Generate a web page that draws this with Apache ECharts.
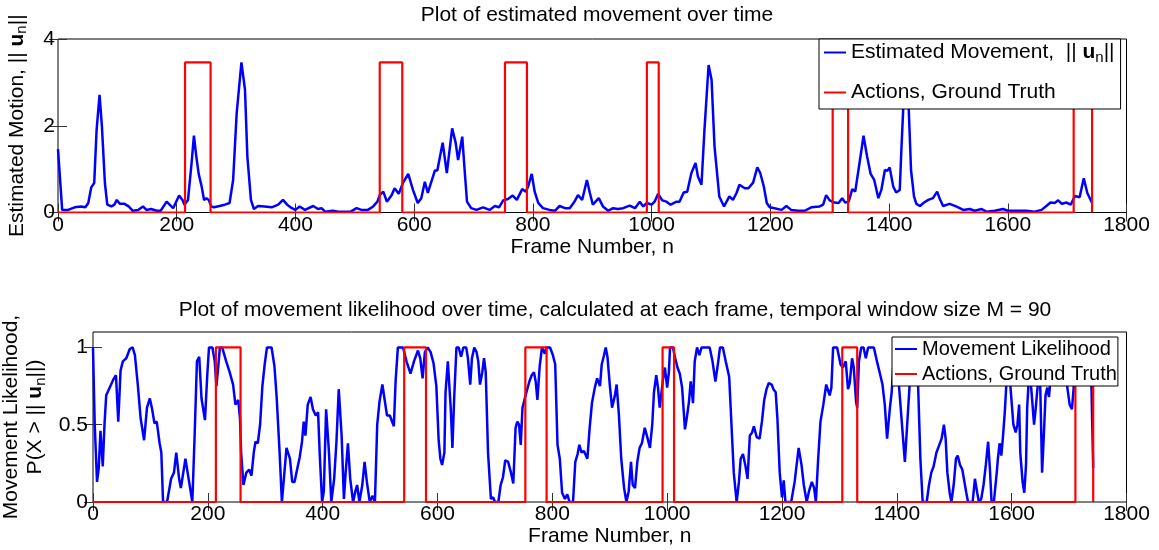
<!DOCTYPE html>
<html>
<head>
<meta charset="utf-8">
<script src="https://cdn.jsdelivr.net/npm/echarts@6/dist/echarts.min.js"></script>
<style>html,body{margin:0;padding:0;background:#fff}#c{width:1159px;height:550px}</style>
</head>
<body>
<div id="c"></div>
<script>
// ---------- data ----------
var motionFrames = [0,7,17,28,39,46,51,56,61,65,70,74,79,83,90,95,99,104,112,119,126,135,143,149,157,166,173,183,188,194,204,210,213,219,225,229,233,237,242,246,250,254,258,263,272,281,289,295,301,309,315,319,325,330,337,348,360,371,379,386,394,400,407,416,430,438,444,450,463,472,483,493,503,511,522,531,538,542,548,554,562,567,574,581,590,598,606,612,618,623,629,635,639,648,655,664,670,674,681,685,689,696,705,716,727,736,743,750,758,766,773,782,788,792,798,803,809,817,828,837,845,854,862,870,876,883,891,896,901,911,918,927,935,943,952,963,972,980,986,992,1000,1005,1011,1018,1025,1032,1042,1047,1054,1060,1067,1074,1078,1084,1089,1096,1101,1106,1114,1122,1131,1137,1143,1148,1157,1163,1171,1178,1183,1189,1194,1199,1207,1219,1227,1235,1247,1258,1269,1283,1289,1294,1300,1308,1315,1321,1326,1332,1338,1343,1351,1357,1363,1369,1375,1382,1387,1393,1397,1401,1407,1412,1418,1421,1424,1428,1433,1437,1442,1446,1452,1459,1466,1474,1481,1485,1491,1502,1513,1525,1536,1544,1556,1564,1578,1592,1600,1617,1631,1645,1657,1665,1672,1679,1685,1691,1699,1706,1713,1721,1728,1734,1742];
var motionValues = [1.46,0.06,0.06,0.12,0.14,0.12,0.22,0.58,0.68,1.9,2.71,1.98,0.68,0.18,0.14,0.18,0.29,0.2,0.2,0.14,0.04,0.06,0.14,0.06,0.08,0.04,0.04,0.25,0.18,0.1,0.39,0.28,0.18,0.29,1.14,1.77,1.29,0.89,0.6,0.29,0.33,0.29,0.14,0.12,0.15,0.18,0.22,0.75,2.29,3.46,2.83,1.29,0.29,0.08,0.15,0.14,0.12,0.18,0.29,0.18,0.1,0.06,0.14,0.06,0.15,0.08,0.1,0.02,0.04,0.02,0.02,0.02,0.1,0.06,0.06,0.14,0.25,0.4,0.48,0.25,0.4,0.56,0.43,0.68,0.89,0.52,0.22,0.33,0.71,0.45,0.71,0.97,0.97,1.61,0.91,1.94,1.6,1.21,1.75,0.98,0.25,0.1,0.06,0.12,0.06,0.15,0.12,0.28,0.31,0.39,0.29,0.54,0.48,0.6,0.89,0.48,0.22,0.1,0.06,0.04,0.15,0.1,0.1,0.25,0.4,0.29,0.75,0.45,0.18,0.33,0.14,0.04,0.1,0.08,0.1,0.16,0.1,0.25,0.14,0.22,0.18,0.25,0.43,0.28,0.25,0.18,0.25,0.25,0.46,0.48,0.91,1.14,0.83,0.64,1.9,3.4,3.06,1.52,0.37,0.14,0.37,0.29,0.45,0.64,0.56,0.56,0.69,1.04,0.91,0.6,0.22,0.12,0.1,0.06,0.15,0.06,0.04,0.04,0.12,0.14,0.18,0.4,0.28,0.23,0.22,0.33,0.23,0.25,0.54,0.48,1.21,1.77,1.29,0.89,0.75,0.33,0.52,0.98,0.96,1.04,0.6,0.46,0.52,1.52,2.44,3.2,2.44,0.98,0.37,0.2,0.15,0.23,0.29,0.33,0.48,0.33,0.15,0.2,0.14,0.06,0.08,0.04,0.08,0.02,0.04,0.08,0.04,0.04,0.04,0.02,0.06,0.15,0.23,0.22,0.28,0.2,0.23,0.18,0.38,0.35,0.79,0.45,0.22];

var likelihoodFrames = [0,3,7,10,13,17,20,23,29,35,40,44,48,52,58,64,69,73,78,83,89,94,99,103,107,111,116,119,122,129,136,141,145,150,153,161,167,173,177,181,185,189,195,199,202,208,212,215,218,221,225,232,238,244,248,253,256,258,262,267,272,276,280,283,287,291,295,299,303,311,316,320,325,329,332,337,340,343,347,351,356,360,364,367,370,374,379,383,388,392,395,399,402,406,411,415,420,424,428,433,437,440,444,448,453,457,460,464,469,473,477,482,487,491,495,499,504,508,512,517,520,524,527,531,540,546,553,559,566,570,574,578,583,588,593,598,602,605,608,612,614,618,623,626,629,633,637,641,645,650,653,657,660,664,668,671,674,678,681,684,688,693,697,700,706,710,714,718,723,728,732,736,739,742,745,748,752,755,760,764,768,771,774,778,782,787,790,796,801,805,809,813,817,822,826,830,836,840,844,847,851,855,858,861,865,869,874,878,883,886,890,893,896,900,904,909,912,916,920,925,929,933,937,940,944,948,952,956,961,966,970,974,977,981,984,987,990,993,996,1000,1003,1005,1010,1014,1018,1022,1026,1031,1034,1038,1041,1045,1048,1052,1056,1060,1074,1079,1084,1089,1092,1097,1102,1108,1112,1116,1121,1125,1128,1132,1136,1140,1144,1148,1151,1156,1161,1165,1169,1173,1177,1182,1185,1189,1192,1196,1200,1203,1206,1216,1222,1229,1234,1238,1243,1247,1252,1256,1259,1263,1267,1272,1277,1283,1286,1289,1296,1302,1306,1311,1315,1318,1322,1325,1329,1331,1334,1338,1342,1346,1350,1360,1366,1370,1375,1379,1383,1388,1391,1395,1398,1401,1404,1414,1418,1422,1426,1432,1437,1441,1445,1452,1456,1460,1464,1469,1474,1478,1482,1485,1488,1492,1495,1499,1503,1506,1510,1514,1517,1521,1524,1532,1536,1540,1543,1547,1551,1555,1559,1562,1565,1569,1574,1576,1579,1582,1585,1588,1591,1594,1598,1603,1607,1610,1613,1615,1619,1622,1625,1627,1629,1632,1634,1639,1642,1645,1648,1650,1653,1656,1659,1662,1665,1670,1676,1684,1690,1697,1701,1705,1708,1712,1718,1728,1734,1739,1742];
var likelihoodValues = [1.0,0.5,0.13,0.22,0.46,0.23,0.5,0.69,0.74,0.79,0.82,0.52,0.85,0.91,0.93,0.99,1.0,0.95,0.76,0.54,0.4,0.61,0.67,0.6,0.51,0.52,0.38,0.32,0.0,0.0,0.15,0.19,0.32,0.15,0.09,0.28,0.14,0.0,0.43,0.91,0.94,0.67,0.53,0.82,1.0,1.0,0.91,0.75,0.87,1.0,1.0,0.91,0.84,0.76,0.63,0.66,0.54,0.32,0.11,0.19,0.21,0.17,0.32,0.39,0.38,0.5,0.75,0.89,1.0,1.0,0.88,0.67,0.32,0.0,0.0,0.35,0.34,0.28,0.13,0.13,0.22,0.29,0.39,0.52,0.43,0.63,0.68,0.6,0.56,0.58,0.3,0.0,0.07,0.6,0.32,0.0,0.15,0.39,0.73,0.43,0.02,0.19,0.38,0.15,0.0,0.07,0.11,0.0,0.11,0.26,0.13,0.0,0.04,0.0,0.5,0.65,0.76,0.66,0.56,0.56,0.55,0.49,0.78,1.0,1.0,0.91,0.83,0.91,0.98,0.93,0.8,0.97,1.0,0.97,0.9,0.75,0.4,0.28,0.24,0.32,0.71,0.91,0.61,0.35,0.67,1.0,1.0,0.94,1.0,1.0,0.93,0.76,0.93,1.0,0.97,0.91,0.76,0.84,0.93,0.84,0.32,0.02,0.03,0.0,0.0,0.11,0.16,0.27,0.26,0.19,0.12,0.48,0.52,0.5,0.37,0.61,0.67,0.68,0.78,0.82,0.84,0.78,0.66,0.88,1.0,0.96,1.0,1.0,0.95,0.89,0.37,0.28,0.06,0.02,0.05,0.0,0.0,0.26,0.31,0.37,0.32,0.33,0.32,0.28,0.48,0.64,0.74,0.8,0.75,0.89,0.95,1.0,0.94,0.76,0.61,0.69,0.76,0.56,0.28,0.09,0.0,0.07,0.26,0.11,0.09,0.26,0.35,0.38,0.48,0.41,0.35,0.5,0.71,0.82,0.74,0.61,0.61,0.8,0.87,0.74,0.84,1.0,1.0,0.93,0.87,0.83,0.74,0.47,0.54,0.65,0.78,0.64,0.91,1.0,0.95,1.0,1.0,0.91,0.78,0.91,1.0,1.0,0.91,0.81,0.5,0.19,0.0,0.13,0.28,0.31,0.24,0.15,0.43,0.45,0.49,0.42,0.41,0.52,0.66,0.73,0.77,0.76,0.73,0.71,0.54,0.19,0.03,0.14,0.0,0.0,0.13,0.35,0.24,0.11,0.0,0.07,0.13,0.09,0.0,0.28,0.52,0.63,0.76,0.69,0.74,1.0,1.0,0.89,0.87,0.91,0.73,0.77,0.93,0.87,0.65,0.61,0.91,1.0,1.0,0.93,1.0,1.0,0.9,0.84,0.76,0.63,0.41,0.61,0.71,0.95,1.0,0.9,0.74,0.26,0.5,0.74,1.0,1.0,0.76,0.28,0.0,0.0,0.11,0.19,0.23,0.32,0.37,0.41,0.5,0.41,0.19,0.06,0.0,0.11,0.28,0.3,0.24,0.21,0.22,0.06,0.0,0.0,0.15,0.06,0.0,0.02,0.11,0.24,0.39,0.22,0.0,0.0,0.19,0.28,0.38,0.3,0.43,0.58,0.78,1.0,0.74,0.5,0.45,0.5,0.63,0.32,0.13,0.06,0.24,0.61,0.74,0.95,0.74,0.5,0.61,0.74,1.0,0.71,0.19,0.43,0.69,0.74,0.68,0.9,1.0,1.0,0.9,0.74,0.63,0.6,0.74,0.95,1.0,1.0,0.9,0.74,0.22];

// ground-truth action intervals (frame numbers)
var actionStarts = [214,542,753,992,1305,1711];
var actionEnds   = [257,580,790,1012,1331,1742];
var actionLevelTop = 3.46;
var actionLevelBottom = 1;

var xTicks = [0,200,400,600,800,1000,1200,1400,1600,1800];
var yTicksTop = [0,2,4];
var yTicksBottom = [0,0.5,1];

// ---------- build ----------
function pairs(xs, ys){ var o=[]; for(var i=0;i<xs.length;i++) o.push([xs[i],ys[i]]); return o; }
function steps(level){
  var o=[[0,0]];
  for(var i=0;i<actionStarts.length;i++){
    o.push([actionStarts[i],0],[actionStarts[i],level],[actionEnds[i],level],[actionEnds[i],0]);
  }
  return o;
}
var FF = '"Liberation Sans", Arial, Helvetica, sans-serif';
var FS = 21;
var rich = {
  b:{fontWeight:'bold', fontSize:FS, fontFamily:FF, color:'#000'},
  s:{fontSize:15, fontFamily:FF, color:'#000', padding:[10,0,0,0]}
};

function xAx(g, pos, showLabel, gap){
  return {
    gridIndex:g, type:'value', min:0, max:1800, interval:200, position:pos,
    axisLine:{show:false},
    axisTick:{show:true, inside:true, length:9, lineStyle:{color:'#333', width:1}, customValues:xTicks},
    axisLabel:{show:showLabel, color:'#000', fontSize:FS, fontFamily:FF, margin:2, customValues:xTicks,
      formatter:function(v){return String(v);}},
    splitLine:{show:false},
    name: showLabel ? 'Frame Number, n' : '',
    nameLocation:'middle', nameGap:gap,
    nameTextStyle:{color:'#000', fontSize:FS, fontFamily:FF}
  };
}
function yAx(g, pos, showLabel, max, interval, ticks, name, gap, margin){
  return {
    gridIndex:g, type:'value', min:0, max:max, interval:interval, position:pos,
    axisLine:{show:false},
    axisTick:{show:true, inside:true, length:9, lineStyle:{color:'#333', width:1}, customValues:ticks},
    axisLabel:{show:showLabel, color:'#000', fontSize:FS, fontFamily:FF, margin:margin, customValues:ticks,
      formatter:function(v){return String(v);}},
    splitLine:{show:false},
    name: showLabel ? name : '',
    nameLocation:'middle', nameGap:gap,
    nameTextStyle:{color:'#000', fontSize:FS, fontFamily:FF, rich:rich, lineHeight:24, align:'center'}
  };
}

var option = {
  animation:false,
  backgroundColor:'#fff',
  title:[
    {text:'Plot of estimated movement over time', left:592, top:0, textAlign:'center',
     textStyle:{color:'#000', fontSize:FS, fontWeight:'normal', fontFamily:FF}},
    {text:'Plot of movement likelihood over time, calculated at each frame, temporal window size M = 90', left:610, top:295, textAlign:'center',
     textStyle:{color:'#000', fontSize:FS, fontWeight:'normal', fontFamily:FF}}
  ],
  grid:[
    {left:58, top:39, width:1068.5, height:173.5, show:true, borderColor:'#000', borderWidth:1, backgroundColor:'rgba(0,0,0,0)', outerBoundsMode:'none', containLabel:false},
    {left:93, top:332, width:1033.5, height:170, show:true, borderColor:'#000', borderWidth:1, backgroundColor:'rgba(0,0,0,0)', outerBoundsMode:'none', containLabel:false}
  ],
  xAxis:[ xAx(0,'bottom',true,19), xAx(0,'top',false,0), xAx(1,'bottom',true,18), xAx(1,'top',false,0) ],
  yAxis:[
    yAx(0,'left',true,4,2,yTicksTop,'Estimated Motion, || {b|u}{s|n}||',29,3),
    yAx(0,'right',false,4,2,yTicksTop,'',0,3),
    yAx(1,'left',true,1.1,0.5,yTicksBottom,'Movement Likelihood,\nP(X > || {b|u}{s|n}||)',40,5),
    yAx(1,'right',false,1.1,0.5,yTicksBottom,'',0,5)
  ],
  legend:[
    {orient:'vertical', left:819, top:39, z:20, data:['Estimated Movement','Actions, Ground Truth'],
     icon:'rect', itemWidth:22, itemHeight:2, itemGap:17, padding:[3,6,6,5],
     backgroundColor:'#fff', borderColor:'#000', borderWidth:1, borderRadius:0,
     textStyle:{color:'#000', fontSize:FS, fontFamily:FF, rich:rich},
     formatter:function(n){ return n==='Estimated Movement' ? 'Estimated Movement,  || {b|u}{s|n}||' : n; }},
    {orient:'vertical', left:892, top:337, z:20, data:['Movement Likelihood','Actions, Ground Truth'],
     icon:'rect', itemWidth:22, itemHeight:2, itemGap:5, padding:[2,1,2,3],
     backgroundColor:'#fff', borderColor:'#000', borderWidth:1, borderRadius:0,
     textStyle:{color:'#000', fontSize:20, fontFamily:FF}}
  ],
  series:[
    {name:'Estimated Movement', type:'line', xAxisIndex:0, yAxisIndex:0, data:pairs(motionFrames,motionValues),
     showSymbol:false, symbol:'none', lineStyle:{color:'#0000ff', width:2.5}, itemStyle:{color:'#0000ff'}, smooth:false, z:3},
    {name:'Actions, Ground Truth', type:'line', xAxisIndex:0, yAxisIndex:0, data:steps(actionLevelTop),
     showSymbol:false, symbol:'none', lineStyle:{color:'#ff0000', width:2.2}, itemStyle:{color:'#ff0000'}, z:4},
    {name:'Movement Likelihood', type:'line', xAxisIndex:2, yAxisIndex:2, data:pairs(likelihoodFrames,likelihoodValues),
     showSymbol:false, symbol:'none', lineStyle:{color:'#0000ff', width:2.5}, itemStyle:{color:'#0000ff'}, smooth:false, z:3},
    {name:'Actions, Ground Truth', type:'line', xAxisIndex:2, yAxisIndex:2, data:steps(actionLevelBottom),
     showSymbol:false, symbol:'none', lineStyle:{color:'#ff0000', width:2.2}, itemStyle:{color:'#ff0000'}, z:4}
  ]
};
var chart = echarts.init(document.getElementById('c'), null, {renderer:'canvas'});
chart.setOption(option);
</script>
</body>
</html>
